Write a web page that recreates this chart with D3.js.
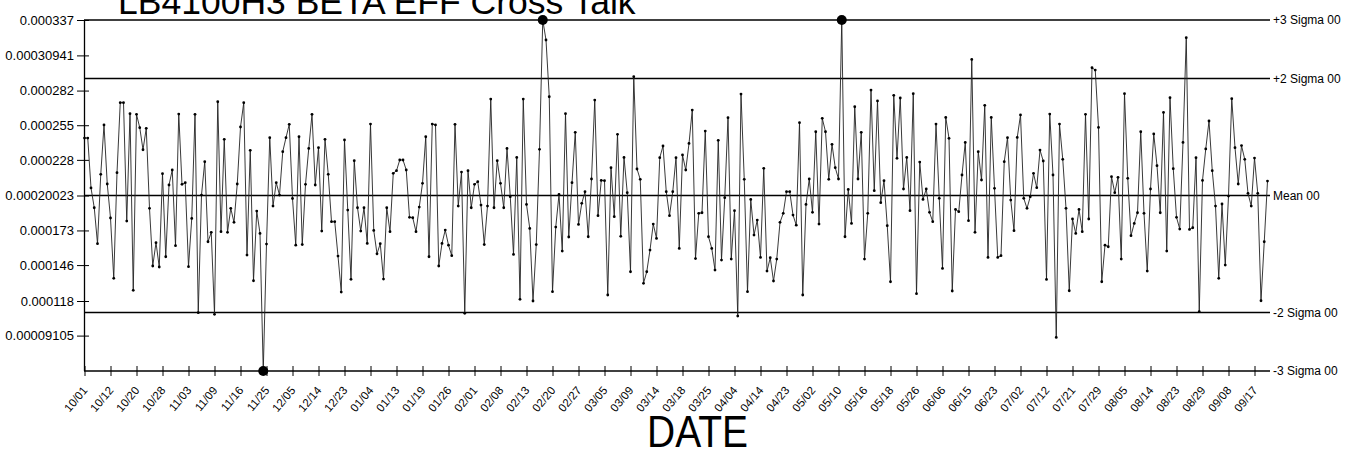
<!DOCTYPE html>
<html>
<head>
<meta charset="utf-8">
<title>LB4100H3 BETA EFF Cross Talk</title>
<script src="https://cdn.jsdelivr.net/npm/d3@7"></script>
<style>
  body { margin: 0; background: #fff; }
  text { font-family: "Liberation Sans", Arial, sans-serif; fill: #000; }
</style>
</head>
<body>
<script>
// readings, in units of 1e-6
var values = [
  245.0, 245.0, 206.1, 190.7, 162.7, 216.7, 255.2, 209.2, 182.7, 135.7,
  218.0, 272.6, 272.6, 180.3, 264.0, 126.3, 263.5, 253.1, 235.9, 252.6,
  190.2, 145.3, 163.5, 144.5, 217.2, 152.5, 208.4, 220.1, 161.1, 263.7,
  208.9, 210.2, 144.8, 182.4, 263.5, 108.9, 200.6, 226.6, 164.2, 171.5,
  107.6, 273.3, 172.0, 244.0, 171.5, 190.2, 179.3, 209.2, 253.6, 272.6,
  153.8, 235.4, 133.8, 188.1, 170.7, 63.46, 162.4, 245.3, 192.0, 210.2,
  200.6, 234.4, 245.3, 255.7,
  197.9, 161.5, 246.0, 162.0, 208.9, 236.9, 263.5, 208.4, 237.5, 172.5,
  244.0, 216.7, 179.8, 179.8, 153.0, 125.0, 243.5, 188.9, 134.9, 227.4,
  190.7, 172.5, 190.7, 162.9, 255.9, 173.0, 154.8, 162.7, 135.1, 190.7,
  172.0, 217.5, 219.6, 227.9, 227.9, 220.1, 183.2, 182.9, 172.0, 191.2,
  209.7, 246.0, 152.5, 255.9, 255.2, 145.3, 162.9, 173.3, 161.5, 153.3,
  255.7, 192.0, 218.5, 108.4, 219.6, 190.7, 208.9, 211.0, 192.8, 162.0,
  192.0, 275.4, 190.7, 227.4, 209.7, 190.7, 236.9, 199.3, 154.3, 229.9,
  119.3, 275.4, 193.3, 174.6, 118.0, 162.0, 236.2, 337.0, 321.4, 277.2,
  125.3, 175.6, 201.1, 156.9, 264.0, 167.9, 210.2, 249.5, 177.7, 194.1,
  203.2, 168.1, 213.1, 274.6, 184.5, 212.0, 211.8, 122.7, 221.9, 183.7,
  247.9, 168.4, 229.9, 202.4, 140.8, 292.8, 220.9, 212.8, 131.8, 140.8,
  157.7, 178.0, 166.8, 229.7, 238.8, 203.2, 184.5, 203.2, 229.7, 159.0,
  231.8,
  220.1, 240.8, 266.8, 151.1, 186.3, 186.8, 250.4, 168.1, 159.0, 142.1,
  243.2, 149.9, 198.5, 260.9, 150.7, 188.4, 106.3, 279.3, 212.8, 125.3,
  197.2, 169.4, 181.1, 152.0, 221.4, 141.3, 151.7, 133.6, 150.7, 179.3,
  186.3, 203.2, 203.2, 185.0, 177.1, 257.0, 122.7, 193.3, 213.1, 187.1,
  249.9, 178.0, 260.4, 249.9, 212.8, 240.1, 221.9, 213.1, 337.0, 168.1,
  205.0, 178.5, 269.4, 213.1, 249.5, 150.7, 186.3, 282.4, 204.0,
  273.9, 194.6, 211.8, 176.7, 133.0, 278.3, 229.2, 276.2, 205.3, 229.9,
  188.4, 279.6, 123.7, 226.3, 197.2, 205.3, 187.1, 179.8, 255.9, 198.0,
  143.4, 261.1, 244.8, 125.8, 189.4, 187.6, 216.2, 241.6, 180.6, 306.3,
  171.5, 234.4, 212.3, 270.5, 152.0, 261.1, 205.8, 152.0, 153.3, 226.6,
  245.3, 196.7, 172.8, 245.5, 263.0, 198.0, 190.2, 199.3, 217.5, 206.3,
  235.6, 227.1, 134.8, 263.7, 216.2, 89.6, 255.9, 228.4, 190.2, 126.0,
  181.9, 170.7, 189.4, 172.0, 263.5, 181.9, 299.8, 298.0, 253.3, 133.0,
  161.5, 160.3, 214.9, 202.4, 214.4, 150.7, 279.6, 213.6, 168.9, 178.5,
  186.8, 249.9, 186.3, 141.3, 205.3, 248.2, 223.5, 186.8, 265.0, 156.9,
  276.5, 221.1, 183.2, 174.1, 241.6, 323.2, 173.8, 175.1, 229.7, 109.7,
  212.0, 236.5, 258.3, 219.6, 192.0, 135.7, 193.6, 146.0, 199.8, 275.7,
  237.5, 209.2, 239.1, 228.4, 201.9, 192.0, 229.4, 201.9, 118.2, 164.2,
  211.5
];

// one date label every 8 samples
var dateLabels = ["10/01","10/12","10/20","10/28","11/03","11/09","11/16","11/25",
  "12/05","12/14","12/23","01/04","01/13","01/19","01/26","02/01","02/08","02/13",
  "02/20","02/27","03/05","03/09","03/14","03/18","03/25","04/04","04/14","04/23",
  "05/02","05/10","05/16","05/18","05/26","06/06","06/15","06/23","07/02","07/12",
  "07/21","07/29","08/05","08/14","08/23","08/29","09/08","09/17"];

var yTicks = [337, 309.41, 282, 255, 228, 200.23, 173, 146, 118, 91.05];
var yTickLabels = ["0.000337","0.00030941","0.000282","0.000255","0.000228",
  "0.00020023","0.000173","0.000146","0.000118","0.00009105"];

var mean = 200.23, sigma = 45.59;
var limitMult = [3, 2, 0, -2, -3];
var limitNames = ["+3 Sigma 00", "+2 Sigma 00", "Mean 00", "-2 Sigma 00", "-3 Sigma 00"];

var w = 1358, h = 456;
var pl = 84, pr = 1270, pt = 20, pb = 371;

var svg = d3.select("body").append("svg")
    .attr("width", w)
    .attr("height", h);

var x = d3.scaleLinear().domain([0, values.length - 1]).range([pl + 0.5, 1267.5]);
var y = d3.scaleLinear().domain([mean - 3 * sigma, mean + 3 * sigma]).range([pb, pt]);

// title (clipped at the top edge like the original)
svg.append("text")
    .attr("x", 118).attr("y", 14)
    .style("font-size", "35.5px")
    .text("LB4100H3 BETA EFF Cross Talk");

// control limit lines
var limits = svg.append("g").selectAll("g")
    .data(limitMult)
    .enter().append("g")
    .attr("transform", function(m) { return "translate(0," + y(mean + m * sigma) + ")"; });
limits.append("line")
    .attr("x1", pl).attr("x2", pr)
    .attr("stroke", "#000").attr("stroke-width", 1.5);
limits.append("text")
    .attr("x", pr + 3).attr("dy", "0.35em")
    .style("font-size", "12px")
    .text(function(m, i) { return limitNames[i]; });

// y axis
var yAxis = svg.append("g")
    .attr("transform", "translate(" + pl + ",0)")
    .call(d3.axisLeft(y).tickValues(yTicks)
        .tickFormat(function(d, i) { return yTickLabels[i]; })
        .tickSize(7).tickPadding(3));
yAxis.select(".domain").attr("stroke-width", 1.3).attr("d", "M0.5," + pt + "V" + pb);
yAxis.selectAll(".tick line").attr("x2", -7).attr("x1", 5);
yAxis.selectAll("text").style("font-size", "13px").attr("fill", "#000");

// x axis
var xAxis = svg.append("g")
    .attr("transform", "translate(0," + pb + ")")
    .call(d3.axisBottom(x).tickValues(d3.range(dateLabels.length).map(function(i) { return i * 8; }))
        .tickFormat(function(d) { return dateLabels[d / 8]; })
        .tickSize(5));
xAxis.select(".domain").remove();
xAxis.selectAll(".tick line").attr("y1", -5).attr("y2", 5);
xAxis.selectAll("text")
    .style("font-size", "11.5px")
    .attr("fill", "#000")
    .attr("text-anchor", "end")
    .attr("y", 0).attr("dy", "0.35em")
    .attr("transform", "translate(0,17) rotate(-50)");

svg.append("text")
    .attr("x", 647).attr("y", 447)
    .attr("textLength", 101)
    .attr("lengthAdjust", "spacingAndGlyphs")
    .style("font-size", "44px")
    .text("DATE");

// series
var line = d3.line()
    .x(function(d, i) { return x(i); })
    .y(function(d) { return y(d); });

svg.append("path")
    .datum(values)
    .attr("fill", "none")
    .attr("stroke", "#222")
    .attr("stroke-width", 0.9)
    .attr("d", line);

svg.append("g").selectAll("circle")
    .data(values)
    .enter().append("circle")
    .attr("cx", function(d, i) { return x(i); })
    .attr("cy", function(d) { return y(d); })
    .attr("r", function(d) { return (d >= mean + 3 * sigma - 0.01 || d <= mean - 3 * sigma + 0.01) ? 5 : 1.4; })
    .attr("fill", "#000");
</script>
</body>
</html>
